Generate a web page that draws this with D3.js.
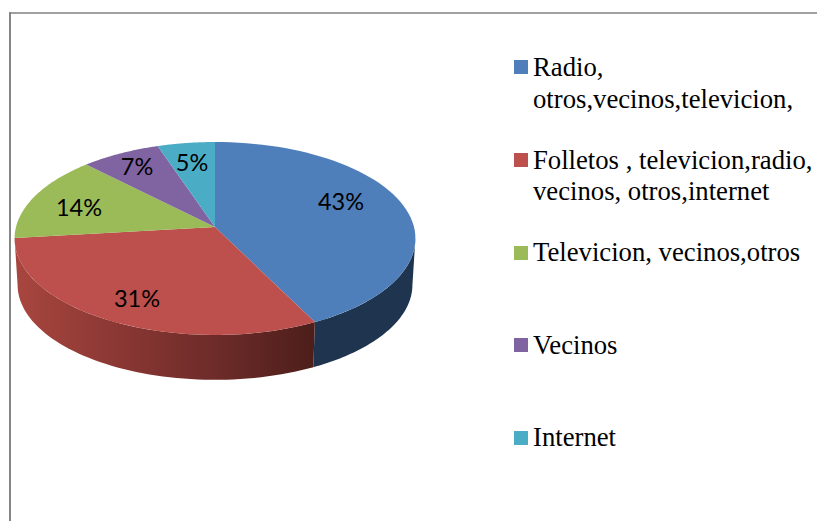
<!DOCTYPE html>
<html><head><meta charset="utf-8">
<script src="https://cdn.jsdelivr.net/npm/d3@7"></script>
<style>html,body{margin:0;padding:0;background:#fff}svg{display:block}</style>
</head><body><svg id="c" width="817" height="521"></svg>
<script>
const legendLines = [["Radio,","otros,vecinos,televicion,"],["Folletos , televicion,radio,","vecinos, otros,internet"],["Televicion, vecinos,otros"],["Vecinos"],["Internet"]];
const values = [42.6,30.6,14.4,7.2,5.2];
const topColors = ["#4f7fba","#bd4f4c","#9bbb59","#8064a2","#4bacc6"];
const sideColors = ["#1f344f","url(#redSide)","#5f7336","#4d3b63","#2d6b7c"];
const legendSwatchY = [60,153,246,338,431];
const legendBaselines = [[76,108],[169,200],[261],[354],[446]];
const labelPos = [[341,202],[137,299],[79,208],[137,167],[192,163]];

const svg = d3.select("#c");
const defs = svg.append("defs");
const grad = defs.append("linearGradient").attr("id","redSide").attr("gradientUnits","userSpaceOnUse")
  .attr("x1",15).attr("x2",315).attr("y1",0).attr("y2",0);
[[0,"#a8463f"],[0.35,"#8a3733"],[0.7,"#6a2a28"],[1,"#4d1e1a"]].forEach(s=>grad.append("stop").attr("offset",s[0]).attr("stop-color",s[1]));

// frame
svg.append("rect").attr("x",9).attr("y",12).attr("width",808).attr("height",2).attr("fill","#a0a0a0");
svg.append("rect").attr("x",9).attr("y",12).attr("width",2).attr("height",509).attr("fill","#868686");

// perspective projection of a unit disc
const cx=215, cy=227, k=199, h=95.1, p=0.119;
function proj(a,r,s,dy){ const u=Math.sin(a)*r, v=Math.cos(a)*r, w=1+p*v;
  return [cx+s*k*u/w, cy+dy-s*h*v/w]; }
const pie = d3.pie().sort(null)(values);
const rimAngles=(a0,a1)=>d3.range(0,61).map(i=>a0+(a1-a0)*i/60);
const line=d3.line();
const vis0=Math.PI/2+0.12, vis1=Math.PI*1.5-0.12;
// sides
pie.forEach((d,i)=>{
  const a0=Math.max(d.startAngle,vis0), a1=Math.min(d.endAngle,vis1);
  if(a1<=a0) return;
  const ang=rimAngles(a0,a1);
  const pts=ang.map(a=>proj(a,1,1,0)).concat(ang.slice().reverse().map(a=>proj(a,1,0.985,46.5)));
  svg.append("path").attr("d",line(pts)+"Z").attr("fill",sideColors[i]);
});
// top
pie.forEach((d,i)=>{
  const pts=[[cx,cy]].concat(rimAngles(d.startAngle,d.endAngle).map(a=>proj(a,1,1,0)));
  svg.append("path").attr("d",line(pts)+"Z").attr("fill",topColors[i]);
});
// labels
const fmt=d3.format(".0%"), total=d3.sum(values);
values.forEach((v,i)=>{
  svg.append("text").attr("x",labelPos[i][0]).attr("y",labelPos[i][1]).attr("dy","0.35em")
    .attr("text-anchor","middle").attr("font-family","Lato").attr("font-size",23.5).attr("fill","#000")
    .text(fmt(v/total));
});
// legend
legendLines.forEach((ls,i)=>{
  svg.append("rect").attr("x",514).attr("y",legendSwatchY[i]).attr("width",14).attr("height",14).attr("fill",topColors[i]);
  ls.forEach((t,j)=>svg.append("text").attr("x",533).attr("y",legendBaselines[i][j])
    .attr("font-family","Liberation Serif").attr("font-size",26.7).attr("fill","#000").text(t));
});
</script></body></html>
